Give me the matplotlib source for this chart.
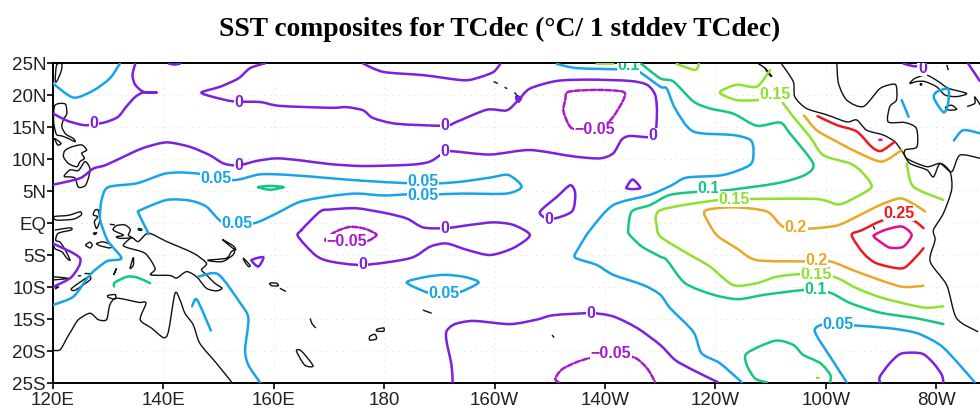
import matplotlib
matplotlib.use("Agg")
import matplotlib.pyplot as plt
from matplotlib.path import Path
from matplotlib.patches import PathPatch

TITLE = "SST composites for TCdec (\u00b0C/ 1 stddev TCdec)"
LON_TICKS = [120, 140, 160, 180, 200, 220, 240, 260, 280]
LON_LABELS = ["120E", "140E", "160E", "180", "160W", "140W", "120W", "100W", "80W"]
LAT_TICKS = [25, 20, 15, 10, 5, 0, -5, -10, -15, -20, -25]
LAT_LABELS = ["25N", "20N", "15N", "10N", "5N", "EQ", "5S", "10S", "15S", "20S", "25S"]

LEVEL_COLORS = {
    "-0.05": "#a81cc8", "0": "#7d20e0", "0.05": "#18a4e8", "0.1": "#12c880",
    "0.15": "#90e030", "0.2": "#e8a828", "0.25": "#f01820", "0.3": "#e0108c",
}

# contour lines, (lon east, lat)
LEVEL_M005 = [
    [(214,14.8),(212.5,17.4),(212.8,19.2),(213.4,20.5),(218.5,20.8),(223.3,20.5),(223.3,19.2),(221.5,16.6),(220,15.3),(218,14.7),(214,14.8)],
    [(169.3,-2.65),(171.1,-1.4),(173.8,-0.6),(176.5,-0.9),(178.6,-1.8),(177.4,-2.65),(175.6,-3.1),(171,-3.0),(169.3,-2.65)],
    [(211.6,-24.9),(211,-24.3),(212.5,-22.7),(217.3,-21.1),(224.8,-20.9),(227.6,-22.7),(229.1,-24.9)],
]
LEVEL_0 = [
    [(120.06,17.1),(122.5,16),(125.5,15.3),(127.4,15.4),(129.7,15.8),(131.8,16.6),(133.3,18.2),(134.9,19.7),(136.4,20.4),(138.8,20.4),(136.4,20.5),(134.9,21.6),(134.4,23.1),(134.9,24.9)],
    [(158.4,24.95),(155.7,24.2),(153.6,22.6),(150.3,21.3),(146.9,20.4),(149,19.7),(152.7,19),(157.5,18.9),(161.1,18.3),(170.2,18),(173.2,18.1),(176.2,17.6),(178,16.4),(182.3,15.5),(191,15.2),(193.1,15.8),(198.6,17.7),(202.2,17.6),(204.3,19.2),(206.4,21),(211.3,22.2),(217.3,22.4),(224.5,22.2),(227.6,21.6),(229.1,20),(229.4,17.1),(228.8,13.6),(224.5,13.6),(223,13),(221.5,10.9),(219.1,10.1),(214.3,10.4),(206.4,11.4),(199.2,10.7),(192.5,11.2),(191,11.1),(188.3,9.6),(184.7,9.1),(176.2,8.9),(170.2,9.2),(164.7,9.8),(160.5,10.1),(156.9,9.7),(153.6,9),(150.9,9.3),(148.4,10.6),(144.8,11.9),(140.6,12.6),(137,11.9),(134.6,11.1),(129.7,9.1),(127.3,8.5),(124.9,7),(120.1,6)],
    [(176.2,24.9),(179.9,23.6),(187.1,23.1),(194.4,22.3),(197.4,22.8),(199.8,23.6),(201,24.8)],
    [(141,24.9),(142,24.75),(143,24.9)],
    [(203.9,19.7),(204.8,19.5),(204.3,19),(203.9,19.7)],
    [(165,-1.1),(168.4,1.8),(170.2,2.1),(175,2.3),(180.5,1.5),(184.1,0.7),(187.1,-0.7),(191.2,-0.8),(195.6,-0.3),(199.8,0.1),(203.4,-0.3),(206.4,-1.9),(203.4,-3.9),(199.2,-5),(195,-4.2),(191.3,-3.2),(188.3,-3.7),(184.7,-5.5),(176.2,-6.55),(170.2,-6),(167.5,-5),(164.4,-2.1),(165,-1.1)],
    [(208.2,1.7),(211.3,4.1),(213.7,5.9),(214.6,4.6),(214,1.8),(210.1,0.6),(208.2,1.7)],
    [(223.9,5.5),(225,6.8),(226.4,5.5),(225,5.3),(223.9,5.5)],
    [(120,-3.2),(124.9,-5.5),(123.4,-8.4),(120,-10)],
    [(156,-5.8),(158.1,-5.35),(157.2,-6.8),(156,-5.8)],
    [(192.4,-24.9),(192.2,-22.2),(191.3,-18.5),(191.3,-16.9),(192.8,-15.8),(196.2,-15.3),(202.8,-15.8),(207.6,-15.1),(210.7,-14.4),(217.5,-14.1),(221.5,-14.6),(225.8,-16.4),(230,-19.05),(232.7,-21.4),(236,-23),(240.5,-24.9)],
    [(269.8,-24.9),(269.8,-24),(271.6,-21.9),(273.7,-20.4),(277.4,-20.4),(279.5,-21.9),(281,-23.7),(281.3,-24.9)],
    [(274.1,24.9),(275.9,24.5),(277.4,24.5)],
    [(285.8,24.9),(287.9,22.2)],
]
LEVEL_005 = [
    [(120,21.8),(123.7,19.6),(127.3,20.7),(130.3,22.6),(132.1,24.9)],
    [(120,-12.8),(123.7,-11.5),(126.7,-8.1),(129.7,-6),(132.4,-5.5),(130,-2.9),(128.8,-0.3),(128.5,1),(128.8,3.6),(130,5.6),(135.2,6.2),(140,7.65),(143,7.9),(146.9,7.65),(152.7,6.7),(157.5,7.6),(162.9,7.5),(170.2,7),(176.2,6.6),(184.7,6.2),(190.1,6.2),(194.4,6.5),(199.2,7.1),(202.5,7.5),(204.9,5.7),(202.2,4.6),(194.4,4.6),(190.1,4.5),(184.7,4.5),(179.9,4.3),(175,4.6),(170.2,4.2),(164.7,3.3),(160.5,1.5),(156.3,-0.05),(150.9,0.05),(147.8,2.55),(144.8,3.5),(140.6,3.6),(135.8,2),(135.5,1.5),(137,-1.1),(137.3,-1.75)],
    [(146.3,-8.4),(149.9,-8),(153.9,-12.5),(155.4,-14.9),(154.8,-19.8),(155.4,-22.2),(157.5,-24.9)],
    [(145.2,-13),(146.1,-12),(148.6,-16.8)],
    [(184.1,-9.3),(187.7,-8.4),(191,-8.1),(194.4,-8.4),(197.1,-9.3),(193.4,-10.9),(190.8,-11),(188.3,-11),(184.1,-9.3)],
    [(211.3,24.85),(214.9,24.2),(222.7,24),(225.8,23.8),(230,21.3),(231.2,21),(232.7,17.9),(236,14.3),(243.2,13.75),(246.3,13),(246.9,11.4),(246.3,9.1),(241.4,7.5),(234.8,7.1),(232.1,5.9),(228.15,4.4),(221.5,2.8),(217.3,-1.1),(215.2,-3.95),(214.6,-5.4),(218.5,-6.55),(221.5,-8.1),(226.96,-9.7),(230,-11.2),(231.8,-13.3),(236,-17),(237.5,-20.35),(240.8,-21.9),(244.8,-24.9)],
    [(263.8,-24.9),(260.8,-20.9),(258,-16.9),(259.85,-15.8),(265,-16),(271.6,-16.45),(276.5,-17.2),(280.7,-19.05),(283.7,-21.65),(287,-24.9)],
    [(273.75,19.2),(275,16.6)],
    [(282.2,20.9),(280.1,20.5),(279.6,19.5),(281.3,17.3),(282.1,18.4),(282.2,20.9)],
    [(283.2,12.9),(284.9,14.5),(288,14)],
]
LEVEL_01 = [
    [(157.2,5.6),(159.3,5.8),(161.8,5.6),(159.3,5.2),(157.2,5.6)],
    [(131.05,-9.9),(131.2,-9.3),(133.4,-8.4),(135.2,-8.5),(137.6,-9.4)],
    [(226.4,25),(230,22.6),(232.4,22.1),(236,19),(239,17.9),(243.2,17.1),(247.5,15.2),(251.7,15.7),(253.5,14),(257.7,9.3),(256.2,7.5),(251.1,6.2),(241.4,5.05),(237.2,4.9),(231.8,4.4),(228.15,2.8),(224.85,1.8),(224.2,-1.1),(224.5,-1.9),(226.7,-3.7),(230,-5.25),(231.2,-5.8),(234.5,-9.4),(239.6,-11.2),(244.1,-11.9),(249,-11.2),(256.5,-10.45),(260.8,-10.9),(264.4,-12.5),(269.8,-14),(276.5,-14.9),(281.3,-15.8)],
    [(249.3,-24.9),(247.2,-24.3),(245.7,-22.2),(245.7,-20.35),(250.8,-18.4),(254.1,-19.05),(255.9,-20.6),(259,-21.9),(260.8,-23.7),(260.8,-24.9)],
]
LEVEL_015 = [
    [(218.5,24.9),(221.5,24.9)],
    [(233,24.85),(236.3,23.9),(237,24.85)],
    [(249.9,23.9),(247.5,21.3),(243.85,21.6),(240.8,20.4),(243.85,19.2),(248,19.2)],
    [(252.2,18.8),(254.1,16.6),(257.1,13.5),(259.55,10.6),(264.4,9.3),(266.5,8),(268.3,5.7),(265.6,4.1),(262.3,2.9),(258.3,3.75),(246.3,3.75),(240.8,3.6),(234.2,2.8),(230,2),(229.2,1),(229.35,-0.3),(230,-2.1),(234.8,-4.7),(239,-6.8),(243.25,-9.7),(247.5,-9.4),(251.1,-8.4),(255.6,-8),(261.4,-8.4),(265.6,-10.2),(270.4,-11.75),(277.7,-13.2),(281.3,-13)],
    [(274.65,9.3),(275.85,5.7),(281.3,3.6)],
    [(258.4,-24.2),(258.7,-24.2)],
]
LEVEL_02 = [
    [(256.05,16.8),(258.35,14.5),(262,12.7),(265.6,11.1),(270.1,9.6),(273.75,11.4)],
    [(278,1.8),(275.85,3),(273.45,3.85),(269.8,2.8),(265.6,1),(262,-0.4),(256.5,-0.9),(252.3,-0.6),(249.3,1.8),(243.25,2.45),(238.1,1.9),(239,-0.3),(240.5,-2.1),(243.85,-3.95),(247.5,-5.8),(256.5,-6),(260.8,-6),(265.6,-7.6),(273.45,-9.9),(277.7,-9.8)],
]
LEVEL_025 = [
    [(258.5,16.7),(262,15.3),(265.6,14.3),(268.3,11.9),(270,11.25),(272.5,12.7)],
    [(277.7,-0.8),(275.5,0.5),(270.7,0.5),(266.6,-1.1),(264.7,-1.9),(266.8,-4.7),(269.2,-6.3),(273.75,-7.1),(275.85,-5.75),(277.7,-3.95)],
]
LEVEL_03 = [
    [(268.7,-2),(270.7,-1.1),(273.75,-0.55),(275.55,-1.85),(274.05,-3.7),(271.6,-3.85),(269.8,-2.9),(268.7,-2)],
    [(269.7,13),(270.1,13)],
]
LEVEL_LINES = {"-0.05": LEVEL_M005, "0": LEVEL_0, "0.05": LEVEL_005, "0.1": LEVEL_01,
               "0.15": LEVEL_015, "0.2": LEVEL_02, "0.25": LEVEL_025, "0.3": LEVEL_03}

# contour labels: text, lon, lat
CONTOUR_LABELS = [
    ("0",127.4,15.5),("0",153.6,18.85),("0",153.6,9),("0",191,15.25),("0",191,11.15),("0",228.65,13.6),
    ("0",209.9,0.6),("0",191,-0.8),("0",176.1,-6.55),("0",217.5,-14.1),("0",277.5,24.2),
    ("0.05",149.5,6.9),("0.05",153.3,-0.05),("0.05",187.1,6.45),("0.05",187.1,4.3),("0.05",190.85,-11),("0.05",262.15,-15.8),
    ("0.1",224.2,24.6),("0.1",238.7,5.35),("0.1",258.2,-10.45),
    ("0.15",250.8,20.1),("0.15",243.4,3.7),("0.15",258.3,-8),
    ("0.2",254.6,-0.7),("0.2",258.35,-5.8),
    ("0.25",273.3,1.5),
    ("-0.05",218.2,14.6),("-0.05",173.2,-2.9),("-0.05",221.1,-20.35),
]

# coastlines
COAST_LINES = [
    # New Guinea with the Bird's Head
    [(134.25,-2.3),(135.45,-2.9),(137.3,-1.6),(140.6,-2.9),(145.4,-4.7),(147.8,-6.3),(146.9,-7.3),(147.8,-8.1),(149.3,-9.4),(150.6,-10.2),(149.6,-10.6),(147.8,-10.2),(146,-8.4),(144.2,-7.6),(142.4,-8.6),(141.2,-8.2),(137.7,-8.1),(138.5,-7.1),(136.7,-4.75),(133.65,-3.9),(132.75,-3.45),(134.25,-2.3)],
    [(130.9,-1.1),(131.55,-0.4),(133,-0.3),(134,-1),(133.65,-1.9),(134.25,-2.3),(132.15,-2.4),(131.5,-2.15),(132.75,-1.9),(130.9,-1.1)],
    [(130.3,-0.2),(131.2,-0.3)],
    [(135.5,-0.85),(136,-0.95),(136.05,-1.15),(135.5,-1.1),(135.5,-0.85)],
    # Australia
    [(120,-19.9),(121.3,-19.8),(122.5,-18),(123.4,-16.7),(124.6,-15.1),(126.7,-14.1),(128.2,-15.1),(129.7,-15.1),(130.3,-12.8),(131.5,-11.75),(135.5,-12.4),(136.85,-12.5),(135.8,-15.1),(137.9,-16.45),(140,-17.9),(140.9,-17),(142.1,-11),(143,-12),(143.9,-14.1),(145.4,-15.9),(146.6,-18.8),(149.6,-21.9),(152.4,-24.9)],
    # Taiwan
    [(120.4,22.35),(120.66,24.7),(121.6,24.85),(121.45,23.65),(120.66,22.1),(120.4,22.35)],
    # Luzon, Mindoro
    [(120.35,18.4),(122.2,18.6),(122.5,17.1),(121.9,16.2),(121.6,15.05),(122.3,13.9),(123.7,13.2),(124,12.7),(122.8,13.2),(121.6,13.6),(120.66,13.8),(120.3,14.8),(120.1,16.1),(120.35,18.4)],
    [(120.3,13.2),(120.85,12.2),(121.45,12.45),(120.3,13.2)],
    # Visayas
    [(122.15,11.3),(121.9,10.35),(122.8,9.3),(124.3,8.8),(124.9,9.6),(125.7,10.1),(125.2,10.9),(126.1,11.4),(125.2,12.2),(123.4,11.9),(122.15,11.3)],
    # Mindanao
    [(122,7.3),(123.1,8.3),(124.6,8.2),(125.8,9.6),(126.7,8.5),(126.4,7),(125.8,5.8),(124.6,5.6),(124,7),(123.1,7.2),(122,7.3)],
    # Sulawesi and neighbours
    [(120.2,1),(122.8,1.2),(124.9,1.75),(125.1,1.25),(123.7,0.6),(120.65,0.45),(120.2,1)],
    [(120.35,-1.1),(123.1,-0.75),(123.3,-1.1),(120.95,-1.6),(120.5,-2.7),(121.3,-3),(122.2,-4.2),(123.1,-5.8),(122.5,-5.5),(121.6,-4.5),(120.35,-4),(120.05,-3.05)],
    [(127.6,2),(128.2,2),(128.5,0.45),(127.9,-0.85),(127.5,0.2),(128.1,1),(127.3,1.25),(127.6,2)],
    [(127.3,-1.6),(127.9,-1.5),(127.6,-1.8),(127.3,-1.6)],
    [(125.9,-3.45),(126.7,-3),(127.1,-3.45),(126.7,-3.9),(125.9,-3.45)],
    [(127.9,-3.2),(129.1,-2.95),(130.6,-3.45),(130.3,-3.9),(128.5,-3.55),(127.9,-3.2)],
    # Nusa Tenggara
    [(123.4,-10.2),(126.4,-8.4),(126.7,-8.9),(124,-10.5),(123.4,-10.2)],
    [(120,-8.4),(122.8,-8.65),(120,-8.9)],
    [(120,-10),(121,-10),(120.35,-10.3)],
    [(124.5,-8.25),(125.1,-8.25)],
    [(125.7,-7.9),(126.7,-7.9)],
    [(131.1,-7.9),(131.5,-7.1),(131,-8.1),(131.1,-7.9)],
    [(133.95,-7.1),(134.55,-5.4),(134.55,-6.6),(133.95,-7.1)],
    [(130,-11.3),(131.3,-11.2),(131.2,-11.9),(130,-11.6),(130,-11.3)],
    # Bismarck and Solomons
    [(148.1,-5.8),(151.4,-5.5),(152.3,-4.5),(152.9,-4.2),(152.6,-5),(150.8,-6),(149,-6),(148.1,-5.8)],
    [(150.7,-2.6),(153,-4.2),(152.7,-3.6),(150.7,-2.6)],
    [(154.5,-5.5),(155.7,-6.6),(155.4,-6.8),(154.7,-6),(154.5,-5.5)],
    [(159.3,-9.4),(160.5,-9.4),(160.8,-9.8),(159.6,-9.8),(159.3,-9.4)],
    [(161.1,-10.2),(162.2,-10.7)],
    [(166.6,-14.9),(166.9,-15.7),(167.6,-16.4)],
    [(164.1,-20),(165,-20),(167.1,-22.3),(165.6,-22.2),(164.1,-20)],
    # Fiji, Samoa, Tahiti, Hawaii
    [(177.4,-17.7),(178.3,-17.4),(178.6,-18.1),(177.4,-18.3),(177.4,-17.7)],
    [(178.7,-16.6),(179.9,-16.4),(179.9,-16.9),(178.7,-16.9),(178.7,-16.6)],
    [(187,-13.6),(188.6,-14.1)],
    [(210.4,-17.5),(210.8,-17.9)],
    [(199.8,22.1),(200.6,21.8)],
    [(201.8,21.2),(202.3,21)],
    [(203.6,20.4),(204,20)],
    [(204,19.9),(204.7,19.6),(204.4,18.9),(203.9,19.3),(204,19.9)],
    # Americas
    [(247.8,24.85),(249,24.2),(250.2,22.9),(249.6,23.3),(249,24.2)],
    [(252,24.85),(254.1,22.1),(254.4,19.7),(256.5,17.9),(260.2,16.9),(263.8,15.8),(265.6,16.1),(267.4,14.5),(270.4,13.75),(272.5,12.7),(274.05,10.9),(275.25,9.3),(278.3,8.3),(279.5,7.2),(280.7,9.3),(282.5,8),(282.8,5.2),(281.3,1.5),(279.5,-1.1),(279.8,-2.65),(278.9,-6),(281.9,-9.7),(283.7,-14.9),(287.6,-17)],
    [(262,24.85),(262.3,21.8),(263.8,19.2),(266.8,18.2),(269.8,21),(272.2,21.7),(272.8,21.3),(272.8,19.2),(271.6,18.2),(271.3,15.8),(274.3,15.7),(276.4,14.8),(276.5,11.9),(274.35,11.4),(274.65,10.1),(278.3,8.8),(280.7,9.3),(282.8,8),(284.3,10.6),(288,10.1)],
    [(275.2,21.8),(276.15,22.6),(278.25,23.1),(280.4,22.1),(282.2,21.05),(285.5,20.25),(283.7,19.75),(281.6,20),(280.05,21.3),(277.95,22.1),(276.45,22.1),(275.2,21.8)],
    [(277.1,21.8),(277.4,21.7),(277.2,21.5),(277.1,21.8)],
    [(281.7,18.1),(282.8,18.4),(283.7,17.75),(282.2,17.65),(281.7,18.1)],
    [(285.6,18.2),(287,18.7),(287,19.7),(288,18.4)],
    [(281.9,24.7),(282.2,23.9)],
    [(268.6,-0.5),(268.9,-1)],
]


def smooth_path(line):
    """Curve through the listed points (Catmull-Rom as cubic Bezier segments)."""
    closed = line[0] == line[-1] and len(line) > 3
    n = len(line)
    verts = [line[0]]
    codes = [Path.MOVETO]
    for i in range(n - 1):
        p1, p2 = line[i], line[i + 1]
        if closed:
            p0 = line[i - 1] if i > 0 else line[-2]
            p3 = line[i + 2] if i + 2 < n else line[1]
        else:
            p0 = line[max(i - 1, 0)]
            p3 = line[min(i + 2, n - 1)]
        t = 1 / 7.5
        verts += [(p1[0] + (p2[0] - p0[0]) * t, p1[1] + (p2[1] - p0[1]) * t),
                  (p2[0] - (p3[0] - p1[0]) * t, p2[1] - (p3[1] - p1[1]) * t), p2]
        codes += [Path.CURVE4] * 3
    return Path(verts, codes)


plt.rcParams["font.family"] = ["Liberation Sans", "DejaVu Sans"]
fig = plt.figure(figsize=(9.8, 4.08), dpi=100)
ax = fig.add_axes([53 / 980, 1 - 383 / 408, 927 / 980, 320 / 408])
ax.set_xlim(120, 120 + 927 / 5.52)
ax.set_ylim(-25, 25)

ax.set_xticks(LON_TICKS, LON_LABELS, fontsize=13.5)
ax.set_yticks(LAT_TICKS, LAT_LABELS, fontsize=13.5)
ax.tick_params(length=4, width=1.2, color="black", labelcolor="#222222")
ax.tick_params(axis="y", pad=1)
ax.tick_params(axis="x", pad=2.5)
for side in ("left", "top", "bottom"):
    ax.spines[side].set_linewidth(1.4)
ax.spines["right"].set_visible(False)
ax.grid(True, color="#e2e2e2", linestyle=(0, (1, 4)), linewidth=0.8)
ax.set_axisbelow(True)

for line in COAST_LINES:
    ax.add_patch(PathPatch(smooth_path(line), fill=False, edgecolor="#111111", lw=1.0, zorder=2))

for level, lines in LEVEL_LINES.items():
    for line in lines:
        dashed = level.startswith("-")
        ax.add_patch(PathPatch(smooth_path(line), fill=False, edgecolor=LEVEL_COLORS[level], lw=1.8,
                               zorder=3, ls=(0, (2.2, 0.9)) if dashed else "-", capstyle="round",
                               joinstyle="round"))

for text, lon, lat in CONTOUR_LABELS:
    ax.text(lon, lat, text.replace("-", "\u2212"), color=LEVEL_COLORS[text], fontsize=11.5, fontweight="bold",
            ha="center", va="center", zorder=4, clip_on=True,
            bbox=dict(facecolor="white", edgecolor="none", pad=0.3))

fig.text(500 / 980, 1 - 29 / 408, TITLE, family="Liberation Serif", fontweight="bold",
         fontsize=19.8, ha="center", va="center", color="black")
fig.savefig("out.png", dpi=100)
